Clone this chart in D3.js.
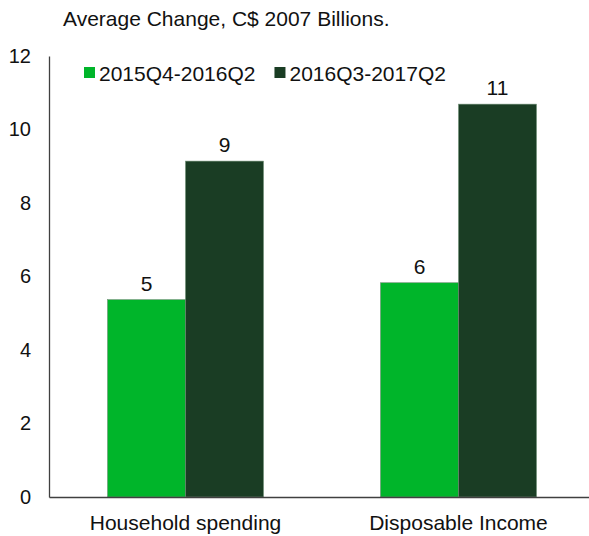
<!DOCTYPE html>
<html>
<head>
<meta charset="utf-8">
<script src="https://cdn.jsdelivr.net/npm/d3@7/dist/d3.min.js"></script>
<style>
  html, body { margin: 0; padding: 0; background: #fff; }
  svg { display: block; font-family: "Liberation Sans", Arial, sans-serif; }
</style>
</head>
<body>
<svg id="chart" width="589" height="536"></svg>
<script>
// Average change in real household spending and disposable income
const categories = ["Household spending", "Disposable Income"];
const seriesNames = ["2015Q4-2016Q2", "2016Q3-2017Q2"];
const seriesEarly = [5.37, 5.83];
const seriesLate = [9.14, 10.69];
const yTicks = [0, 2, 4, 6, 8, 10, 12];
const titleText = "Average Change, C$ 2007 Billions.";

const colors = ["#00b52a", "#1a3d24"];
const svg = d3.select("#chart");
const FONT = "Liberation Sans, Arial, sans-serif";

const rows = categories.map((c, i) => ({
  category: c,
  values: [
    { key: seriesNames[0], value: seriesEarly[i] },
    { key: seriesNames[1], value: seriesLate[i] }
  ]
}));

const y = d3.scaleLinear().domain([0, 12]).range([497, 56]);
const x0 = d3.scaleBand().domain(categories).range([49, 595]).padding(0);
const x1 = d3.scaleBand().domain(seriesNames).range([0, x0.bandwidth()])
  .paddingInner(0).paddingOuter(0.75);
const color = d3.scaleOrdinal().domain(seriesNames).range(colors);

// Title
svg.append("text")
  .attr("x", 63).attr("y", 26)
  .attr("font-size", 21).attr("fill", "#111")
  .text(titleText);

// Bars
const groups = svg.append("g").selectAll("g").data(rows).join("g")
  .attr("transform", d => `translate(${x0(d.category)},0)`);

groups.selectAll("rect").data(d => d.values).join("rect")
  .attr("x", d => x1(d.key))
  .attr("width", x1.bandwidth())
  .attr("y", d => y(d.value))
  .attr("height", d => y(0) - y(d.value))
  .attr("fill", d => color(d.key))
  .attr("stroke", "#6f8f75").attr("stroke-width", 0.6);

// Value labels
const fmt = d3.format(".0f");
groups.selectAll("text").data(d => d.values).join("text")
  .attr("x", d => x1(d.key) + x1.bandwidth() / 2)
  .attr("y", d => y(d.value) - 9)
  .attr("text-anchor", "middle")
  .attr("font-size", 21).attr("fill", "#111")
  .text(d => fmt(d.value));

// Y axis: labels and the vertical line, no tick marks
const yAxis = d3.axisLeft(y).tickValues(yTicks).tickSize(0).tickPadding(18);
const gy = svg.append("g").attr("transform", "translate(49,0)").call(yAxis);
gy.select(".domain").attr("stroke", "#404040").attr("stroke-width", 1.3);
gy.selectAll("text").attr("font-size", 20).attr("fill", "#111")
  .attr("font-family", FONT);

// X axis
const xAxis = d3.axisBottom(x0).tickSize(0).tickPadding(18);
const gx = svg.append("g").attr("transform", "translate(0,497)").call(xAxis);
gx.select(".domain").attr("stroke", "#404040").attr("stroke-width", 1.3);
gx.selectAll("text").attr("font-size", 21).attr("fill", "#111")
  .attr("font-family", FONT);

// Legend
const legend = svg.append("g").attr("transform", "translate(84,67)");
let lx = 0;
seriesNames.forEach(s => {
  const g = legend.append("g").attr("transform", `translate(${lx},0)`);
  g.append("rect").attr("width", 11).attr("height", 11).attr("fill", color(s));
  const t = g.append("text").attr("x", 15).attr("y", 14)
    .attr("font-size", 21).attr("fill", "#111").text(s);
  lx += 15 + t.node().getComputedTextLength() + 19;
});
</script>
</body>
</html>
